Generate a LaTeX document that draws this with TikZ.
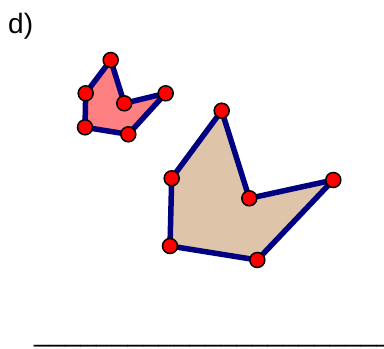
\documentclass[tikz,border=0pt]{standalone}
\usepackage{fontspec}
\setmainfont{Liberation Sans}
\definecolor{edgeblue}{RGB}{0,0,128}
\definecolor{smallfill}{RGB}{255,128,128}
\definecolor{bigfill}{RGB}{222,196,168}

\begin{document}
\begin{tikzpicture}[
    x=1pt, y=-1pt,
    every node/.style={font=\fontsize{28}{32}\selectfont},
    pt/.style={circle,draw=black,fill=red,line width=1.5pt,minimum size=15pt,inner sep=0pt},
    edge/.style={draw=edgeblue,line width=5.5pt,line join=round}
]
\useasboundingbox (0,0) rectangle (384,349);
\node[anchor=base west,inner sep=0pt] (label) at (8,33) {d)};
% small shape
\coordinate (a1) at (110.7,60);
\coordinate (a2) at (124.3,103.3);
\coordinate (a3) at (165.7,93.3);
\coordinate (a4) at (128.3,134.3);
\coordinate (a5) at (85,127.3);
\coordinate (a6) at (85.7,93.3);
\fill[smallfill] (a1) -- (a2) -- (a3) -- (a4) -- (a5) -- (a6) -- cycle;
\draw[edge] (a1) -- (a2) -- (a3) -- (a4) -- (a5) -- (a6) -- cycle;
% big shape
\coordinate (b1) at (221.7,110.7);
\coordinate (b2) at (249.3,198.3);
\coordinate (b3) at (333.3,180);
\coordinate (b4) at (257.3,260);
\coordinate (b5) at (170,246);
\coordinate (b6) at (171.7,178.3);
\fill[bigfill] (b1) -- (b2) -- (b3) -- (b4) -- (b5) -- (b6) -- cycle;
\draw[edge] (b1) -- (b2) -- (b3) -- (b4) -- (b5) -- (b6) -- cycle;
\foreach \v in {a1,a2,a3,a4,a5,a6,b1,b2,b3,b4,b5,b6}
    \node[pt] (p\v) at (\v) {};
\node[anchor=base west,inner sep=0pt] (blank) at (34,341) {\_\_\_\_\_\_\_\_\_\_\_\_\_\_\_\_\_\_\_\_\_\_\_};
\end{tikzpicture}
\end{document}
